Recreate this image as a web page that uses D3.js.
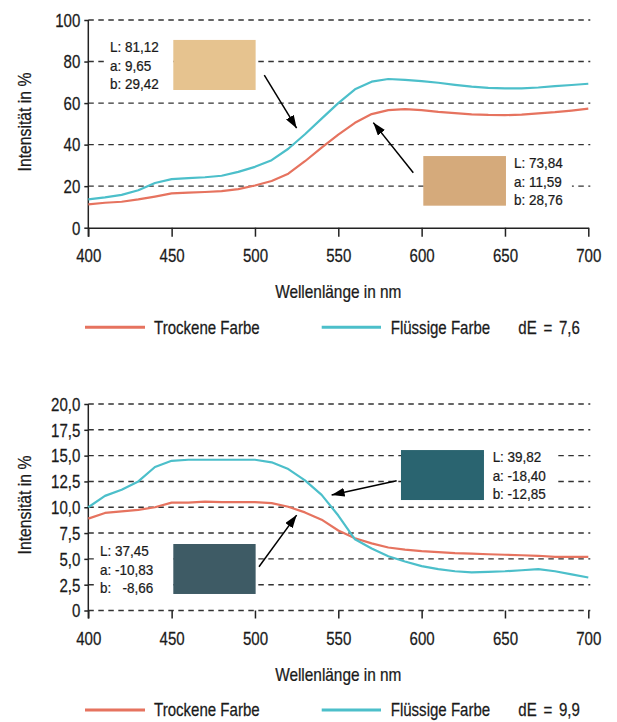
<!DOCTYPE html>
<html>
<head>
<meta charset="utf-8">
<script src="https://cdn.jsdelivr.net/npm/d3@7"></script>
<style>
  body { margin: 0; background: #fff; }
  text { font-family: "Liberation Sans", Arial, sans-serif; fill: #1a1a1a; stroke: #1a1a1a; stroke-width: 0.25px; }
</style>
</head>
<body>
<div id="chart"></div>
<script>
// wavelengths in nm
const wavelengths = [400, 410, 420, 430, 440, 450, 460, 470, 480, 490, 500, 510, 520, 530, 540, 550,
                     560, 570, 580, 590, 600, 610, 620, 630, 640, 650, 660, 670, 680, 690, 700];

// upper panel (beige)
const dryTop = [11.2, 12, 12.5, 13.6, 15, 16.5, 16.9, 17.2, 17.6, 18.6, 20.3, 22.5, 26, 32, 38.6, 44.8,
                50.5, 54.7, 56.6, 57.1, 56.6, 55.8, 55.2, 54.6, 54.3, 54.2, 54.4, 55, 55.6, 56.4, 57.3];
const wetTop = [13.6, 14.6, 15.8, 18, 21.5, 23.4, 23.9, 24.3, 25, 26.9, 29.3, 32.5, 38, 45, 52.5, 60,
                66.6, 70.3, 71.6, 71.2, 70.6, 69.8, 68.8, 67.9, 67.3, 67.1, 67.1, 67.5, 68.2, 68.7, 69.3];

// lower panel (petrol)
const dryBottom = [8.9, 9.45, 9.6, 9.75, 10, 10.45, 10.45, 10.55, 10.5, 10.5, 10.5, 10.4, 10.05, 9.5, 8.8, 7.75,
                   7.0, 6.5, 6.1, 5.9, 5.75, 5.65, 5.55, 5.5, 5.45, 5.4, 5.35, 5.3, 5.2, 5.2, 5.2];
const wetBottom = [10, 11.1, 11.7, 12.5, 13.9, 14.5, 14.6, 14.6, 14.6, 14.6, 14.6, 14.35, 13.7, 12.6, 11.2, 9.2,
                   6.9, 6.0, 5.25, 4.75, 4.3, 4.0, 3.8, 3.7, 3.75, 3.8, 3.9, 4.0, 3.8, 3.5, 3.2];

const xTicks = [400, 450, 500, 550, 600, 650, 700];
const yTicksTop = [0, 20, 40, 60, 80, 100];
const yTicksBottom = [0, 2.5, 5, 7.5, 10, 12.5, 15, 17.5, 20];

const seriesNames = ["Trockene Farbe", "Flüssige Farbe"];
const deltaE = ["dE = 7,6", "dE = 9,9"];
const xTitle = "Wellenlänge in nm";
const yTitle = "Intensität in %";

// Lab values of the swatches
const labTop = [["L: 81,12", "a: 9,65", "b: 29,42"], ["L: 73,84", "a: 11,59", "b: 28,76"]];
const labBottom = [["L: 37,45", "a: -10,83", "b:   -8,66"], ["L: 39,82", "a: -18,40", "b: -12,85"]];

const colors = { dry: "#e6735f", wet: "#4cbfca" };

// squeeze a text element around its own anchor point (the original uses a condensed face)
function condense(sel, k) {
  k = k || 0.88;
  sel.each(function() {
    const t = d3.select(this);
    const tx = +t.attr("x") || 0;
    const prev = t.attr("transform") || "";
    t.attr("transform", prev + " translate(" + tx + ",0) scale(" + k + ",1) translate(" + (-tx) + ",0)");
  });
}

const W = 617, H = 722;
const svg = d3.select("#chart").append("svg")
    .attr("width", W).attr("height", H);

svg.append("defs").append("marker")
    .attr("id", "head")
    .attr("viewBox", "0 0 13 9")
    .attr("refX", 13).attr("refY", 4.5)
    .attr("markerWidth", 13).attr("markerHeight", 9)
    .attr("markerUnits", "userSpaceOnUse")
    .attr("orient", "auto")
  .append("path").attr("d", "M0,0 L13,4.5 L0,9 Z").attr("fill", "#000");

const x = d3.scaleLinear().domain([400, 700]).range([88.3, 588.3]);

function fmtBottom(d) { return d === 0 ? "0" : d.toFixed(1).replace(".", ","); }

const panels = [
  {
    yRange: [227.7, 20], yDomain: [0, 100], ticks: yTicksTop, fmt: d => d,
    dry: dryTop, wet: wetTop, solidZero: true, tickLen: 9, dE: deltaE[0], titleY: 122,
    notes: [
      { box: [451, 500.4, 90.4, 66.3], fill: "#e6c38f", side: "left", tx: 413, lab: labTop[0],
        arrow: [505.6, 73.5, 525, 47.9] },
      { box: [601, 650.6, 34.5, 10.6], fill: "#d5aa7b", side: "right", tx: 655.5, lab: labTop[1],
        arrow: [595, 26.5, 571, 50.6] }
    ]
  },
  {
    yRange: [610.5, 404], yDomain: [0, 20], ticks: yTicksBottom, fmt: fmtBottom,
    dry: dryBottom, wet: wetBottom, solidZero: false, tickLen: 8, dE: deltaE[1], titleY: 505,
    notes: [
      { box: [451, 500.4, 6.44, 1.6], fill: "#3e5b65", side: "left", tx: 407, lab: labBottom[0],
        arrow: [502.4, 4.24, 525, 9.24] },
      { box: [587.6, 637.4, 15.54, 10.7], fill: "#2a6470", side: "right", tx: 642.6, lab: labBottom[1],
        arrow: [585, 12.57, 546, 11.18] }
    ]
  }
];

panels.forEach(function(p) {
  const y = d3.scaleLinear().domain(p.yDomain).range(p.yRange);
  const g = svg.append("g");
  const y0 = y(0);

  // dashed grid
  g.selectAll(".grid").data(p.ticks.filter(d => !(p.solidZero && d === 0))).enter().append("line")
      .attr("x1", x(400)).attr("x2", x(700) + 2)
      .attr("y1", d => y(d)).attr("y2", d => y(d))
      .attr("stroke", "#333").attr("stroke-width", 1.4)
      .attr("stroke-dasharray", "5.5,4.5");

  // x axis
  const xAxis = g.append("g")
      .attr("transform", "translate(0," + y0 + ")")
      .call(d3.axisBottom(x).tickValues(xTicks).tickSize(p.tickLen).tickSizeOuter(0));
  xAxis.attr("font-family", null).attr("font-size", null);
  xAxis.select(".domain").attr("stroke", p.solidZero ? "#222" : "none").attr("stroke-width", 1.5);
  xAxis.selectAll(".tick line").attr("stroke", "#222").attr("stroke-width", 1.5);
  xAxis.selectAll(".tick text")
      .attr("y", 34.5).attr("dy", null)
      .style("font-size", "17.5px")
      .attr("fill", "#1a1a1a")
      .call(condense, 0.86);

  // y axis
  const yAxis = g.append("g")
      .attr("transform", "translate(" + x(400) + ",0)")
      .call(d3.axisLeft(y).tickValues(p.ticks).tickFormat(p.fmt).tickSize(4).tickSizeOuter(0).tickPadding(4));
  yAxis.attr("font-family", null).attr("font-size", null);
  yAxis.select(".domain").attr("stroke", "#222").attr("stroke-width", 1.5)
      .attr("d", "M0," + y(p.yDomain[1]) + "V" + (y0 + p.tickLen));
  yAxis.selectAll(".tick line").attr("stroke", "#222").attr("stroke-width", 1.5);
  yAxis.selectAll(".tick text")
      .attr("dy", "0.36em")
      .style("font-size", "17.5px")
      .attr("fill", "#1a1a1a")
      .call(condense, 0.86);

  // titles
  g.append("text")
      .attr("x", (x(400) + x(700)) / 2).attr("y", y0 + 70.5)
      .attr("text-anchor", "middle")
      .style("font-size", "17.5px")
      .text(xTitle)
      .call(condense, 0.88);
  g.append("text")
      .attr("transform", "translate(31," + p.titleY + ") rotate(-90)")
      .attr("text-anchor", "middle")
      .style("font-size", "17.5px")
      .text(yTitle)
      .call(condense, 0.9);

  // curves
  const line = d3.line().x(d => x(d[0])).y(d => y(d[1]));
  [["dry", p.dry], ["wet", p.wet]].forEach(function(s) {
    g.append("path")
        .datum(wavelengths.map((w, i) => [w, s[1][i]]))
        .attr("d", line)
        .attr("fill", "none")
        .attr("stroke", colors[s[0]])
        .attr("stroke-width", 2.2)
        .attr("stroke-linejoin", "round");
  });

  // swatches with Lab values and arrows
  p.notes.forEach(function(n) {
    const bx0 = x(n.box[0]), bx1 = x(n.box[1]), by0 = y(n.box[2]), by1 = y(n.box[3]);
    const bg = g.append("rect").attr("fill", "#fff");
    const t = g.append("g");
    n.lab.forEach(function(s, i) {
      t.append("text")
          .attr("x", x(n.tx)).attr("y", by0 + 12.3 + i * 18.5)
          .style("font-size", "15px")
          .style("white-space", "pre")
          .text(s)
          .call(condense, 0.9);
    });
    const bb = t.node().getBoundingClientRect();
    const left = bb.left, right = bb.right;
    if (n.side === "left") {
      bg.attr("x", left - 3).attr("width", bx0 - left + 3);
    } else {
      bg.attr("x", bx1).attr("width", right + 9 - bx1);
    }
    bg.attr("y", by0 - 2).attr("height", by1 - by0 + 4);
    g.append("rect")
        .attr("x", bx0).attr("y", by0)
        .attr("width", bx1 - bx0).attr("height", by1 - by0)
        .attr("fill", n.fill);
    g.append("line")
        .attr("x1", x(n.arrow[0])).attr("y1", y(n.arrow[1]))
        .attr("x2", x(n.arrow[2])).attr("y2", y(n.arrow[3]))
        .attr("stroke", "#000").attr("stroke-width", 1.5)
        .attr("marker-end", "url(#head)");
  });

  // legend
  const ly = y0 + 99.6;
  const lg = g.append("g");
  lg.append("line").attr("x1", 85).attr("x2", 145).attr("y1", ly).attr("y2", ly)
      .attr("stroke", colors.dry).attr("stroke-width", 3);
  lg.append("line").attr("x1", 321.7).attr("x2", 381).attr("y1", ly).attr("y2", ly)
      .attr("stroke", colors.wet).attr("stroke-width", 3);
  [[154, seriesNames[0]], [390.7, seriesNames[1]], [518.3, p.dE]].forEach(function(d) {
    lg.append("text").attr("x", d[0]).attr("y", ly + 6.3)
        .style("font-size", "17.5px").style("word-spacing", d[1] === p.dE ? "3px" : null)
        .text(d[1])
        .call(condense, 0.86);
  });
});
</script>
</body>
</html>
